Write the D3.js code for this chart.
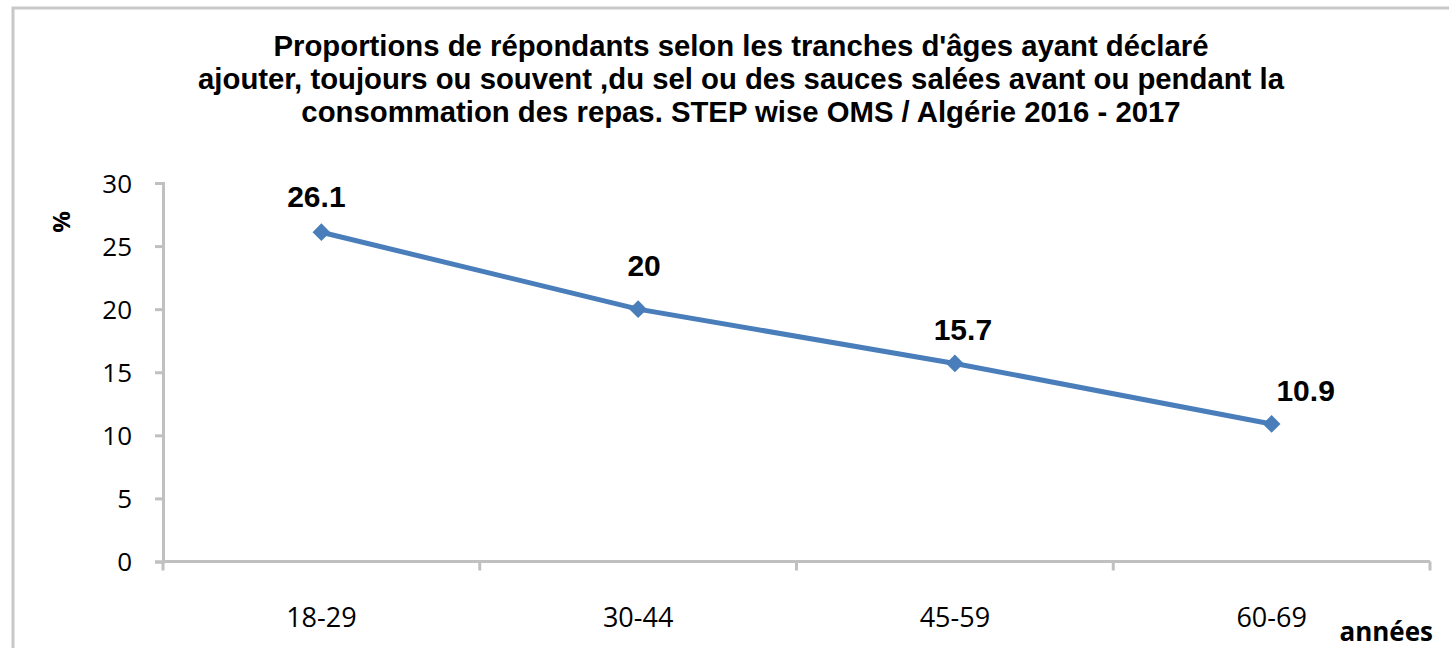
<!DOCTYPE html>
<html>
<head>
<meta charset="utf-8">
<script src="https://cdn.jsdelivr.net/npm/d3@7"></script>
<style>
    body { margin: 0; background: #fff; }
    .title { font-family: "Liberation Sans", Arial, sans-serif; font-weight: bold; font-size: 29.3px; fill: #000; }
    .tick text { font-family: "Open Sans", "Noto Sans", sans-serif; font-size: 26px; fill: #000; }
    .domain, .tick line { stroke: #c0c0c0; stroke-width: 3; }
    .dataLabel { font-family: "Liberation Sans", Arial, sans-serif; font-weight: bold; font-size: 30px; fill: #000; }
</style>
</head>
<body>
<script>
//chart values
var categories = ["18-29", "30-44", "45-59", "60-69"];
var values = [26.1, 20, 15.7, 10.9];
var yTicks = [0, 5, 10, 15, 20, 25, 30];
var titleLines = [
    "Proportions de répondants selon les tranches d'âges ayant déclaré",
    "ajouter, toujours ou souvent ,du sel ou des sauces salées avant ou pendant la",
    "consommation des repas. STEP wise OMS / Algérie 2016 - 2017"
];

//label nudges (dx, dy from the point), as placed in the original
var labelShift = [[-5, -25], [6, -33], [8, -23], [34, -23]];

window.onload = drawChart();

function drawChart(){
    var width = 1449,
        height = 648;

    var svg = d3.select("body")
        .append("svg")
        .attr("width", width)
        .attr("height", height);

    //outer frame of the chart area
    svg.append("rect")
        .attr("x", 13)
        .attr("y", 8)
        .attr("width", 1460)
        .attr("height", 700)
        .attr("fill", "none")
        .attr("stroke", "#c8c8c8")
        .attr("stroke-width", 3);

    //title
    svg.selectAll(".title")
        .data(titleLines)
        .enter()
        .append("text")
        .attr("class", "title")
        .attr("x", 741)
        .attr("y", function(d, i){ return 56 + i * 33; })
        .attr("text-anchor", "middle")
        .text(function(d){ return d; });

    var left = 163, right = 1430, top = 183, bottom = 561.5;

    var x = d3.scaleBand()
        .domain(categories)
        .range([left, right]);

    var y = d3.scaleLinear()
        .domain([0, 30])
        .range([bottom, top]);

    //y axis
    svg.append("g")
        .attr("transform", "translate(" + left + ",0)")
        .call(d3.axisLeft(y).tickValues(yTicks).tickSize(8).tickPadding(23))
        .call(function(g){ g.selectAll(".tick text").attr("dy", "0.36em"); });

    //x axis with ticks between categories
    var xAxis = svg.append("g")
        .attr("transform", "translate(0," + bottom + ")");
    xAxis.append("line")
        .attr("class", "domain")
        .attr("x1", left)
        .attr("x2", right);
    xAxis.selectAll(".sep")
        .data(d3.range(categories.length + 1))
        .enter()
        .append("line")
        .attr("class", "domain")
        .attr("x1", function(d){ return left + d * x.step(); })
        .attr("x2", function(d){ return left + d * x.step(); })
        .attr("y1", 0)
        .attr("y2", 9);
    xAxis.selectAll(".catLabel")
        .data(categories)
        .enter()
        .append("text")
        .attr("class", "catLabel")
        .attr("x", function(d){ return x(d) + x.bandwidth() / 2; })
        .attr("y", 65)
        .attr("text-anchor", "middle")
        .style("font-family", "'Open Sans', 'Noto Sans', sans-serif")
        .style("font-size", "27px")
        .text(function(d){ return d; });

    //axis titles
    svg.append("text")
        .attr("transform", "translate(60,222) rotate(-90)")
        .attr("text-anchor", "middle")
        .attr("dominant-baseline", "central")
        .style("font-family", "'Open Sans', sans-serif")
        .style("font-weight", "bold")
        .style("font-size", "24px")
        .text("%");

    svg.append("text")
        .attr("x", 1433)
        .attr("y", 641)
        .attr("text-anchor", "end")
        .style("font-family", "'Open Sans', sans-serif")
        .style("font-weight", "bold")
        .style("font-size", "26px")
        .text("années");

    //line
    var line = d3.line()
        .x(function(d, i){ return x(categories[i]) + x.bandwidth() / 2; })
        .y(function(d){ return y(d); });

    svg.append("path")
        .datum(values)
        .attr("d", line)
        .attr("fill", "none")
        .attr("stroke", "#4a7ebb")
        .attr("stroke-width", 5);

    //diamond markers
    svg.selectAll(".marker")
        .data(values)
        .enter()
        .append("path")
        .attr("class", "marker")
        .attr("d", d3.symbol().type(d3.symbolDiamond2).size(200))
        .attr("transform", function(d, i){
            return "translate(" + (x(categories[i]) + x.bandwidth() / 2) + "," + y(d) + ")";
        })
        .attr("fill", "#4a7ebb");

    //data labels
    svg.selectAll(".dataLabel")
        .data(values)
        .enter()
        .append("text")
        .attr("class", "dataLabel")
        .attr("x", function(d, i){ return x(categories[i]) + x.bandwidth() / 2 + labelShift[i][0]; })
        .attr("y", function(d, i){ return y(d) + labelShift[i][1]; })
        .attr("text-anchor", "middle")
        .text(function(d){ return d; });
}
</script>
</body>
</html>
